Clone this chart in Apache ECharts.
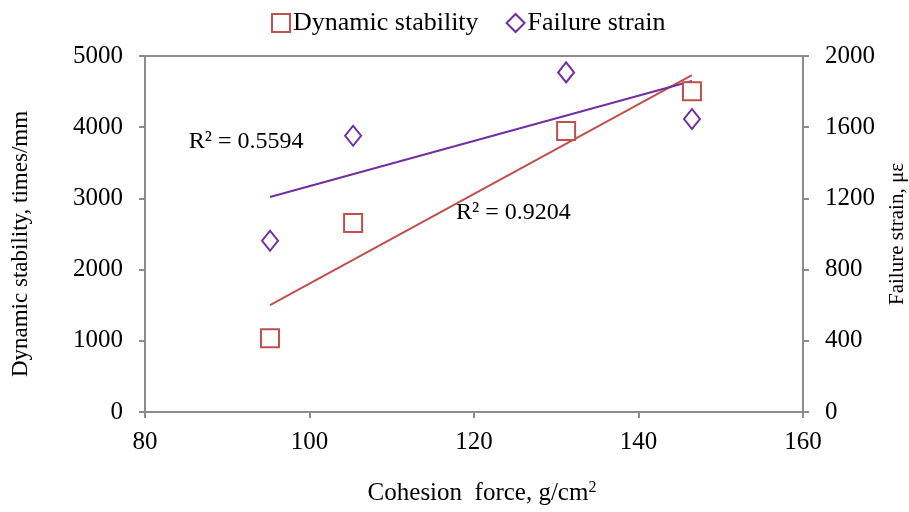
<!DOCTYPE html>
<html>
<head>
<meta charset="utf-8">
<script src="https://cdn.jsdelivr.net/npm/echarts@6/dist/echarts.min.js"></script>
<style>
  html, body { margin: 0; padding: 0; background: #fff; }
  #chart { width: 909px; height: 512px; }
</style>
</head>
<body>
<div id="chart"></div>
<script>
// Cohesion force (g/cm²) for each mix
const cohesion = [95.2, 105.3, 131.2, 146.5];
// Dynamic stability (times/mm), left axis
const dynamicStability = [1035, 2655, 3945, 4505];
// Failure strain (με), right axis
const failureStrain = [962, 1552, 1908, 1646];
// Coefficients of determination shown beside the trend lines
const r2Labels = ['R\u00B2 = 0.5594', 'R\u00B2 = 0.9204'];
const xTicks = { min: 80, max: 160, step: 20 };
const leftTicks = { min: 0, max: 5000, step: 1000 };
const rightTicks = { min: 0, max: 2000, step: 400 };

const RED = '#C0504D';
const PURPLE = '#7030A0';
const AXIS = '#8c8c8c';
const FONT = '"Liberation Serif", "Times New Roman", serif';

// least-squares line through the points, evaluated at the first and last x
function linearFit(xs, ys) {
  const n = xs.length;
  const mx = xs.reduce((a, b) => a + b, 0) / n;
  const my = ys.reduce((a, b) => a + b, 0) / n;
  let sxy = 0, sxx = 0;
  for (let i = 0; i < n; i++) {
    sxy += (xs[i] - mx) * (ys[i] - my);
    sxx += (xs[i] - mx) * (xs[i] - mx);
  }
  const k = sxy / sxx;
  const b = my - k * mx;
  const x0 = Math.min(...xs), x1 = Math.max(...xs);
  return [[x0, k * x0 + b], [x1, k * x1 + b]];
}

const dsTrend = linearFit(cohesion, dynamicStability);
const fsTrend = linearFit(cohesion, failureStrain);

const chart = echarts.init(document.getElementById('chart'), null, { renderer: 'canvas' });

const axisLine = { show: true, lineStyle: { color: AXIS, width: 2 } };
const axisTick = { show: true, length: 6, lineStyle: { color: AXIS, width: 2 } };
const labelStyle = { color: '#000', fontFamily: FONT, fontSize: 25, formatter: v => String(v) };

chart.setOption({
  backgroundColor: '#fff',
  animation: false,
  textStyle: { fontFamily: FONT },
  grid: {
    left: 145, right: 106, top: 56, bottom: 100,
    outerBoundsMode: 'none',
    containLabel: false,
    show: true, borderColor: AXIS, borderWidth: 2, backgroundColor: 'transparent'
  },
  legend: {
    top: 5,
    left: 266,
    itemWidth: 18,
    itemHeight: 18,
    itemGap: 27,
    textStyle: { color: '#000', fontFamily: FONT, fontSize: 26, padding: [0, 0, 0, -2] },
    data: [
      { name: 'Dynamic stability', icon: 'rect' },
      { name: 'Failure strain', icon: 'diamond' }
    ]
  },
  xAxis: {
    type: 'value',
    min: xTicks.min, max: xTicks.max, interval: xTicks.step,
    name: '{t|Cohesion  force, g/cm}{s|2}',
    nameLocation: 'middle',
    nameGap: 68,
    nameTextStyle: {
      padding: [0, 0, 0, 16],
      rich: {
        t: { fontFamily: FONT, fontSize: 25, color: '#000' },
        s: { fontFamily: FONT, fontSize: 16, color: '#000', verticalAlign: 'top', padding: [0, 0, 10, 0] }
      }
    },
    axisLine: axisLine,
    axisTick: axisTick,
    axisLabel: Object.assign({}, labelStyle, { margin: 18 }),
    splitLine: { show: false }
  },
  yAxis: [
    {
      type: 'value',
      min: leftTicks.min, max: leftTicks.max, interval: leftTicks.step,
      name: 'Dynamic stability, times/mm',
      nameLocation: 'middle',
      nameGap: 113,
      nameTextStyle: { color: '#000', fontFamily: FONT, fontSize: 23, padding: [0, 20, 0, 0] },
      axisLine: axisLine,
      axisTick: axisTick,
      axisLabel: Object.assign({}, labelStyle, { margin: 22 }),
      splitLine: { show: false }
    },
    {
      type: 'value',
      position: 'right',
      min: rightTicks.min, max: rightTicks.max, interval: rightTicks.step,
      name: 'Failure strain, \u03BC\u03B5',
      nameLocation: 'middle',
      nameGap: 84,
      nameRotate: 90,
      nameTextStyle: { color: '#000', fontFamily: FONT, fontSize: 21 },
      axisLine: axisLine,
      axisTick: axisTick,
      axisLabel: Object.assign({}, labelStyle, { margin: 22 }),
      splitLine: { show: false }
    }
  ],
  series: [
    {
      name: 'Dynamic stability',
      type: 'scatter',
      yAxisIndex: 0,
      symbol: 'rect',
      symbolSize: 18,
      itemStyle: { color: '#fff', borderColor: RED, borderWidth: 2, opacity: 1 },
      data: cohesion.map((x, i) => [x, dynamicStability[i]]),
      z: 5
    },
    {
      name: 'Failure strain',
      type: 'scatter',
      yAxisIndex: 1,
      symbol: 'diamond',
      symbolSize: [16, 20],
      itemStyle: { color: '#fff', borderColor: PURPLE, borderWidth: 2, opacity: 1 },
      data: cohesion.map((x, i) => [x, failureStrain[i]]),
      z: 5
    },
    {
      name: 'Dynamic stability trend',
      type: 'line',
      yAxisIndex: 0,
      showSymbol: false,
      silent: true,
      lineStyle: { color: RED, width: 2 },
      data: dsTrend,
      z: 3,
      markPoint: {
        symbol: 'circle', symbolSize: 0,
        label: { show: true, position: 'inside', color: '#000', fontFamily: FONT, fontSize: 24, formatter: r2Labels[1] },
        data: [{ coord: [124.8, 2800] }]
      }
    },
    {
      name: 'Failure strain trend',
      type: 'line',
      yAxisIndex: 1,
      showSymbol: false,
      silent: true,
      lineStyle: { color: PURPLE, width: 2 },
      data: fsTrend,
      z: 3,
      markPoint: {
        symbol: 'circle', symbolSize: 0,
        label: { show: true, position: 'inside', color: '#000', fontFamily: FONT, fontSize: 24, formatter: r2Labels[0] },
        data: [{ coord: [92.3, 1520] }]
      }
    }
  ]
});
</script>
</body>
</html>
